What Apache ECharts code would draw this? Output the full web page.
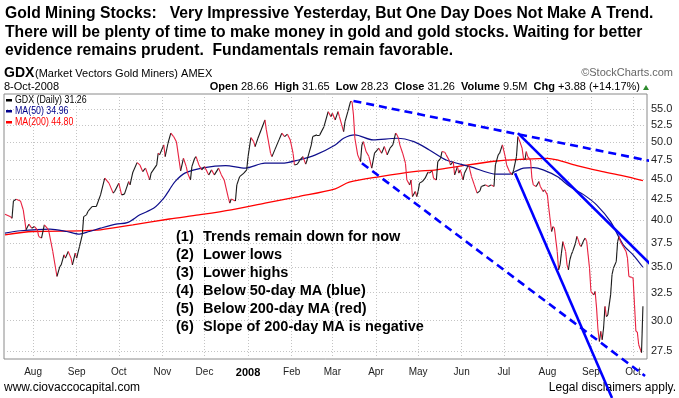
<!DOCTYPE html>
<html>
<head>
    <meta charset="utf-8" />
    <title>GDX</title>
    <script src="https://cdn.jsdelivr.net/npm/echarts@6/dist/echarts.min.js"></script>
    <style>
        body { margin: 0; background: #fff; }
        #main { width: 679px; height: 398px; }
    </style>
</head>
<body>
<div id="main"></div>
<script type="text/javascript">
    // days counted from 12-Jul-2007 (left edge of the chart)
    const priceDays = [0,4,5,6,8,11,13,15,17,19,21,23,24,26,28,30,31,34,37,39,40,42,43,45,47,48,50,51,53,55,56,58,59,61,62,65,68,71,74,77,78,81,83,85,88,89,91,94,96,98,100,103,104,108,109,110,113,114,116,118,120,122,125,127,129,130,132,133,135,136,138,140,142,145,147,149,152,154,156,159,160,161,164,165,167,170,172,173,175,177,178,180,185,186,189,190,192,195,197,199,201,203,205,206,208,210,212,214,215,218,219,222,224,227,230,232,233,235,237,238,241,242,244,246,247,248,249,251,253,254,255,257,259,261,263,265,266,268,270,272,274,276,278,279,280,281,283,285,286,288,289,290,292,293,294,295,297,299,301,302,304,305,307,308,310,311,313,314,316,317,319,320,322,323,324,326,327,329,330,332,334,336,338,339,342,344,346,348,349,351,352,354,356,357,359,361,362,364,365,366,368,369,370,371,372,374,375,376,378,380,381,383,384,386,387,389,390,391,393,394,395,396,397,399,400,401,402,403,404,406,407,408,409,410,412,413,414,416,417,419,420,421,422,423,424,425,426,427,428,429,431,432,433,435,436,437,438,440,442,443,444,446,447,448,449,450,451,453,454];
    const priceValues = [40.70,40.41,40.22,42.27,42.48,42.27,41.21,38.92,39.55,39.10,39.28,38.92,38.18,38.00,39.47,39.10,38.92,36.58,34.05,35.02,35.20,36.23,35.89,36.58,35.89,35.20,36.41,35.89,37.10,38.36,40.41,40.62,41.01,41.41,41.60,41.60,43.01,45.11,44.48,43.23,43.43,44.48,43.01,43.10,44.68,44.26,45.90,47.17,46.86,45.98,46.43,44.89,45.77,46.86,48.46,48.23,49.62,47.99,49.86,51.32,50.82,50.09,46.07,47.76,46.64,45.77,44.89,46.64,47.76,47.99,46.86,46.20,46.64,45.54,46.20,45.54,46.43,45.54,44.89,42.60,42.00,42.51,42.27,44.26,45.32,45.77,46.20,47.99,50.67,50.09,49.39,50.58,53.30,51.80,48.46,47.99,48.92,50.34,51.32,50.82,51.17,50.34,48.46,46.86,46.96,47.53,47.99,46.96,47.53,49.62,50.82,51.07,51.07,52.28,54.58,53.81,54.34,53.30,54.58,53.81,51.55,53.04,54.58,56.25,56.15,54.07,50.58,48.23,47.30,49.62,50.09,48.69,47.99,46.43,48.46,48.92,49.16,48.46,49.39,48.23,49.16,49.62,51.32,51.07,50.58,49.62,48.46,47.09,44.89,44.26,44.89,42.80,43.43,42.80,43.43,44.48,44.68,45.11,45.90,45.77,46.07,45.11,44.89,47.30,47.76,48.69,48.60,48.23,47.53,46.86,47.30,45.54,46.64,45.77,46.20,44.89,45.77,46.51,46.86,45.32,44.26,43.23,43.51,44.05,44.26,44.05,44.26,44.05,46.86,48.23,48.46,49.62,47.99,46.86,45.98,45.54,46.20,47.99,50.82,50.34,49.16,47.76,47.53,48.69,47.99,47.53,45.11,44.26,44.05,44.68,44.05,43.43,43.64,43.01,41.41,38.73,39.28,39.10,36.58,34.70,35.20,36.41,37.62,36.58,35.20,34.70,35.72,36.23,36.58,37.45,38.18,37.81,37.27,37.10,37.81,38.00,37.62,34.86,32.61,32.30,32.61,31.11,29.24,28.27,29.10,28.41,29.38,31.25,30.36,30.51,32.30,34.22,34.86,35.53,37.62,38.18,37.62,37.10,36.58,35.89,34.05,33.96,33.90,31.41,29.10,29.05,28.00,27.38,31.26];

    const ma50Days = [0,11,32,44,53,60,68,79,87,96,106,113,117,121,128,142,157,171,185,197,209,221,235,241,249,262,279,291,302,314,331,350,359,363,369,376,383,393,402,412,421,431,440,447,454];
    const ma50Values = [38.55,38.81,38.99,38.73,38.44,38.73,39.10,39.55,39.72,40.62,41.41,42.60,43.64,44.68,45.77,46.51,46.77,46.43,47.09,47.09,47.53,48.23,49.62,50.58,51.07,50.34,50.58,50.09,48.92,47.53,46.64,45.63,45.63,45.98,46.43,46.51,46.20,45.32,44.05,43.01,41.80,39.83,37.27,36.23,34.96];

    const ma200Days = [0,20,53,68,91,117,138,161,185,209,235,245,267,291,307,326,350,369,386,393,407,423,440,454];
    const ma200Values = [38.36,38.73,38.80,38.92,39.47,40.14,40.62,41.21,42.00,42.80,43.76,44.60,45.32,45.98,46.20,46.77,47.39,47.63,47.76,47.53,46.77,46.07,45.41,44.80];

    // hand-drawn trend lines: [start, end]
    const upperDashDays = [248, 479];
    const upperDashValues = [56.28, 46.64];
    const lowerDashDays = [254, 455.5];
    const lowerDashValues = [47.09, 25.61];
    const steepLineDays = [363, 432];
    const steepLineValues = [45.77, 24.05];
    const downLineDays = [365, 480];
    const downLineValues = [51.32, 32.48];

    const monthTicks = ['2007-08-01','2007-09-01','2007-10-01','2007-11-01','2007-12-01','2008-01-01','2008-02-01','2008-03-01','2008-04-01','2008-05-01','2008-06-01','2008-07-01','2008-08-01','2008-09-01','2008-10-01'];
    const monthNames = ['Jan','Feb','Mar','Apr','May','Jun','Jul','Aug','Sep','Oct','Nov','Dec'];
    const priceTicks = [27.5, 30, 32.5, 35, 37.5, 40, 42.5, 45, 47.5, 50, 52.5, 55];

    const notes = ['(1)','(2)','(3)','(4)','(5)','(6)'];
    const noteTexts = ['Trends remain down for now','Lower lows','Lower highs','Below 50-day MA (blue)','Below 200-day MA (red)','Slope of 200-day MA is negative'];

    const DAY = 86400000;
    const BASE = Date.UTC(2007, 6, 12);
    function pairs(days, vals) {
        return days.map(function (d, i) { return [d, vals[i]]; });
    }
    // month starts as day numbers on the x axis
    const monthDays = monthTicks.map(function (s) { return Math.round((new Date(s + 'T00:00:00Z').getTime() - BASE) / DAY); });

    // price line: black when rising, red when falling
    let segs = [];
    for (let i = 1; i < priceDays.length; i++) {
        let up = priceValues[i] >= priceValues[i - 1];
        segs.push({
            coords: [[priceDays[i - 1], priceValues[i - 1]], [priceDays[i], priceValues[i]]],
            lineStyle: { color: up ? '#1a1a1a' : '#e8203f' }
        });
    }

    const font = '"Liberation Sans", Arial, sans-serif';
    const title = 'bold 15.7px ' + font;

    function trend(days, vals, dashed) {
        return {
            type: 'line', data: pairs(days, vals), showSymbol: false, clip: false, z: 10,
            lineStyle: { color: '#0000ff', width: 2.6, type: dashed ? [8, 5] : 'solid' },
            silent: true
        };
    }
    // narrow legend text (squeezed horizontally)
    function legendText(txt, y, color) {
        return { type: 'text', x: 15, y: y, scaleX: 0.84, z: 20,
            style: { text: txt, font: '10.5px ' + font, fill: color, verticalAlign: 'middle' } };
    }

    let graphics = [
        { type: 'text', x: 5, y: 14, style: { text: 'Gold Mining Stocks:   Very Impressive Yesterday, But One Day Does Not Make A Trend.', font: title, fill: '#000', verticalAlign: 'middle' } },
        { type: 'text', x: 5, y: 32.5, style: { text: 'There will be plenty of time to make money in gold and gold stocks. Waiting for better', font: title, fill: '#000', verticalAlign: 'middle' } },
        { type: 'text', x: 5, y: 51, style: { text: 'evidence remains prudent.  Fundamentals remain favorable.', font: title, fill: '#000', verticalAlign: 'middle' } },
        { type: 'text', x: 4, y: 73, style: { text: 'GDX', font: 'bold 14px ' + font, fill: '#000', verticalAlign: 'middle' } },
        { type: 'text', x: 35, y: 74, style: { text: '(Market Vectors Gold Miners) AMEX', font: '11px ' + font, fill: '#000', verticalAlign: 'middle' } },
        { type: 'text', x: 673, y: 73, style: { text: '\u00a9StockCharts.com', font: '11px ' + font, fill: '#666', align: 'right', verticalAlign: 'middle' } },
        { type: 'text', x: 4, y: 87, style: { text: '8-Oct-2008', font: '11px ' + font, fill: '#000', verticalAlign: 'middle' } },
        { type: 'text', x: 640, y: 87, style: {
            text: '{b|Open} 28.66  {b|High} 31.65  {b|Low} 28.23  {b|Close} 31.26  {b|Volume} 9.5M  {b|Chg} +3.88 (+14.17%)',
            font: '11px ' + font, fill: '#000', align: 'right', verticalAlign: 'middle',
            rich: { b: { font: 'bold 11px ' + font, fill: '#000' } }
        } },
        { type: 'polygon', shape: { points: [[643, 90], [649, 90], [646, 85]] }, style: { fill: '#2e8b2e' } },
        { type: 'rect', shape: { x: 6, y: 99, width: 6, height: 2.5 }, style: { fill: '#000' }, z: 20 },
        legendText('GDX (Daily) 31.26', 100.5, '#000'),
        { type: 'rect', shape: { x: 6, y: 110, width: 6, height: 2.5 }, style: { fill: '#00008b' }, z: 20 },
        legendText('MA(50) 34.96', 111.5, '#00008b'),
        { type: 'rect', shape: { x: 6, y: 121, width: 6, height: 2.5 }, style: { fill: '#ff0000' }, z: 20 },
        legendText('MA(200) 44.80', 122.5, '#ff0000'),
        { type: 'text', x: 4, y: 388, style: { text: 'www.ciovaccocapital.com', font: '12px ' + font, fill: '#000', verticalAlign: 'middle' } },
        { type: 'text', x: 676, y: 388, style: { text: 'Legal disclaimers apply.', font: '12px ' + font, fill: '#000', align: 'right', verticalAlign: 'middle' } }
    ];
    for (let i = 0; i < notes.length; i++) {
        graphics.push({ type: 'text', x: 176, y: 237 + i * 18, z: 20, style: { text: notes[i], font: 'bold 14.5px ' + font, fill: '#000', verticalAlign: 'middle' } });
        graphics.push({ type: 'text', x: 203, y: 237 + i * 18, z: 20, style: { text: noteTexts[i], font: 'bold 14.5px ' + font, fill: '#000', verticalAlign: 'middle' } });
    }

    var option = {
        animation: false,
        backgroundColor: '#fff',
        grid: { left: 4, right: 32, top: 94, bottom: 39, show: true, borderColor: '#8a8a8a', borderWidth: 1, backgroundColor: '#fff' },
        xAxis: {
            type: 'value',
            min: -0.7, max: 456.9,
            axisLine: { show: false },
            axisTick: { show: false, customValues: monthDays },
            splitLine: { show: true, lineStyle: { color: '#c4c4c4', type: [1, 2], width: 1 } },
            axisLabel: {
                customValues: monthDays,
                margin: 8,
                color: '#222',
                fontSize: 10,
                fontFamily: font,
                hideOverlap: false,
                showMinLabel: true,
                showMaxLabel: true,
                formatter: function (val) {
                    let d = new Date(BASE + val * DAY);
                    let m = d.getUTCMonth();
                    return m === 0 ? '{y|' + d.getUTCFullYear() + '}' : monthNames[m];
                },
                rich: { y: { fontWeight: 'bold', fontSize: 11, fontFamily: font, color: '#000' } }
            }
        },
        yAxis: {
            type: 'log',
            logBase: 10,
            position: 'right',
            min: 26.885, max: 57.41,
            axisLine: { show: false },
            axisTick: { show: false, customValues: priceTicks },
            splitLine: { show: true, lineStyle: { color: '#c4c4c4', type: [1, 2], width: 1 } },
            axisLabel: {
                customValues: priceTicks,
                margin: 4,
                color: '#222',
                fontSize: 11,
                fontFamily: font,
                formatter: function (v) { return Number(v).toFixed(1); }
            }
        },
        graphic: graphics,
        series: [
            {
                type: 'line', name: 'MA(200)', data: pairs(ma200Days, ma200Values), showSymbol: false, smooth: 0.3,
                lineStyle: { color: '#ff0000', width: 1.3 }, z: 3
            },
            {
                type: 'line', name: 'MA(50)', data: pairs(ma50Days, ma50Values), showSymbol: false, smooth: 0.3,
                lineStyle: { color: '#0f0f8c', width: 1.2 }, z: 3
            },
            {
                type: 'lines', coordinateSystem: 'cartesian2d', data: segs, z: 4,
                lineStyle: { width: 1.1, opacity: 1 }, silent: true
            },
            trend(upperDashDays, upperDashValues, true),
            trend(lowerDashDays, lowerDashValues, true),
            trend(steepLineDays, steepLineValues, false),
            trend(downLineDays, downLineValues, false)
        ]
    };

    let myChart = echarts.init(document.getElementById('main'));
    myChart.setOption(option);
</script>
</body>
</html>
